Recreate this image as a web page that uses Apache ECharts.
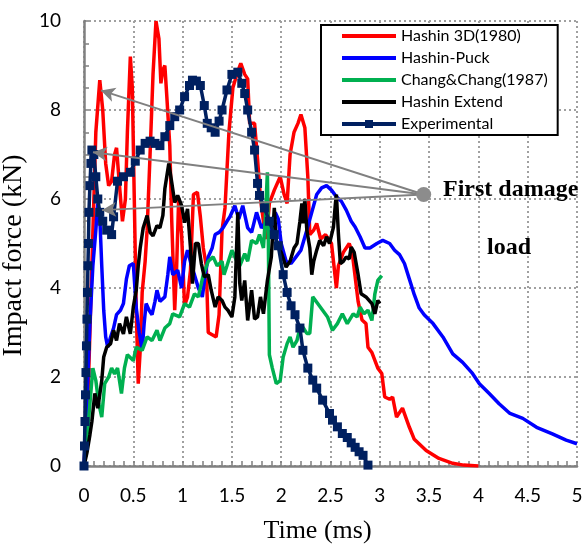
<!DOCTYPE html>
<html>
<head>
<meta charset="utf-8">
<script src="https://cdn.jsdelivr.net/npm/echarts@6/dist/echarts.min.js"></script>
<style>
html,body{margin:0;padding:0;background:#fff;}
#chart{width:585px;height:547px;}
</style>
</head>
<body>
<div id="chart"></div>
<script>
// ---- data: [time (ms), impact force (kN)] ----
const seriesNames = ['Hashin 3D(1980)', 'Hashin-Puck', 'Chang&Chang(1987)', 'Hashin Extend', 'Experimental'];
const xTicks = [0, 0.5, 1, 1.5, 2, 2.5, 3, 3.5, 4, 4.5, 5];
const yTicks = [0, 2, 4, 6, 8, 10];

const hashin3D = [
[0,0],[0.04,1.5],[0.08,4.5],[0.12,7.5],[0.16,8.67],[0.19,8.0],[0.22,6.8],[0.25,6.3],[0.28,6.4],[0.31,7.0],
[0.33,7.15],[0.36,6.3],[0.39,5.5],[0.42,6.0],[0.44,7.5],[0.47,9.2],[0.49,8.5],[0.51,6.0],[0.53,3.5],[0.55,1.85],
[0.57,2.6],[0.59,3.9],[0.62,4.6],[0.64,5.3],[0.67,7.0],[0.70,8.8],[0.73,10.0],[0.76,9.6],[0.78,8.6],[0.80,8.9],
[0.82,9.0],[0.84,8.3],[0.87,7.2],[0.89,5.5],[0.92,3.5],[0.94,4.5],[0.96,6.0],[0.99,5.2],[1.02,3.6],[1.05,3.8],
[1.08,4.4],[1.11,6.1],[1.15,6.15],[1.18,5.6],[1.21,4.9],[1.24,4.5],[1.26,3.0],[1.30,2.95],[1.34,2.9],[1.37,3.4],
[1.40,5.3],[1.43,5.8],[1.47,7.5],[1.51,8.5],[1.55,8.8],[1.59,9.05],[1.63,8.8],[1.66,8.7],[1.68,7.7],[1.73,7.7],
[1.76,6.9],[1.79,6.0],[1.82,5.5],[1.85,5.1],[1.88,5.9],[1.93,6.2],[1.99,6.5],[2.03,6.1],[2.06,5.9],[2.09,7.0],
[2.13,7.5],[2.17,7.7],[2.20,7.9],[2.24,7.6],[2.27,6.5],[2.29,5.2],[2.33,5.3],[2.36,5.45],[2.40,5.1],[2.45,5.2],
[2.51,5.0],[2.56,4.0],[2.58,4.5],[2.63,4.8],[2.69,5.0],[2.72,4.8],[2.78,3.7],[2.82,3.28],[2.86,3.2],[2.88,2.67],
[2.92,2.55],[2.98,2.2],[3.02,2.08],[3.05,1.55],[3.10,1.5],[3.13,1.55],[3.17,1.1],[3.23,1.3],[3.30,0.87],[3.35,0.6],
[3.47,0.35],[3.60,0.17],[3.74,0.06],[3.85,0.02],[4.0,0.0]
];

const hashinPuck = [
[0,0],[0.03,1.5],[0.06,3.2],[0.09,4.5],[0.12,5.3],[0.14,5.9],[0.16,5.6],[0.18,4.5],[0.20,3.5],[0.22,2.9],
[0.24,2.67],[0.27,2.9],[0.30,3.1],[0.33,3.4],[0.37,3.5],[0.40,3.65],[0.43,4.2],[0.46,4.5],[0.50,4.55],[0.53,3.55],
[0.56,3.0],[0.59,2.6],[0.61,3.2],[0.63,3.65],[0.66,3.5],[0.69,3.4],[0.72,3.7],[0.74,3.95],[0.77,3.7],[0.82,3.8],
[0.85,4.3],[0.87,4.7],[0.90,4.3],[0.95,4.4],[0.99,4.0],[1.02,4.6],[1.05,4.85],[1.09,4.5],[1.12,4.3],[1.16,4.0],
[1.20,3.8],[1.23,4.3],[1.26,4.7],[1.30,4.9],[1.33,5.2],[1.37,5.25],[1.41,5.35],[1.45,5.5],[1.48,5.6],[1.53,5.85],
[1.57,5.55],[1.61,5.85],[1.66,5.35],[1.70,5.25],[1.75,5.7],[1.80,5.35],[1.85,5.5],[1.90,5.2],[1.94,5.7],[1.97,5.55],
[2.00,5.0],[2.05,4.6],[2.10,4.55],[2.15,4.7],[2.20,4.85],[2.26,5.3],[2.31,5.7],[2.36,6.1],[2.41,6.25],[2.46,6.3],
[2.51,6.2],[2.56,6.05],[2.61,5.95],[2.66,5.75],[2.71,5.5],[2.75,5.37],[2.80,5.15],[2.85,4.9],[2.90,4.9],[2.97,5.0],
[3.03,5.07],[3.10,5.0],[3.15,4.85],[3.20,4.75],[3.25,4.55],[3.30,4.2],[3.35,3.85],[3.40,3.55],[3.45,3.4],[3.54,3.2],
[3.64,2.9],[3.74,2.52],[3.84,2.33],[3.94,2.08],[4.01,1.85],[4.11,1.63],[4.21,1.4],[4.32,1.18],[4.45,1.07],[4.59,0.87],
[4.75,0.72],[4.89,0.58],[5.0,0.5]
];

const changChang = [
[0,0],[0.03,0.6],[0.06,1.4],[0.09,2.2],[0.12,1.92],[0.15,1.4],[0.18,1.1],[0.21,1.85],[0.25,2.0],[0.28,2.2],
[0.31,2.07],[0.34,2.2],[0.38,1.63],[0.41,2.2],[0.44,2.5],[0.50,2.37],[0.53,2.67],[0.59,2.6],[0.64,2.9],[0.69,2.82],
[0.74,3.05],[0.77,2.82],[0.82,3.1],[0.87,3.2],[0.90,3.42],[0.97,3.35],[1.02,3.65],[1.07,3.57],[1.12,3.87],[1.16,3.8],
[1.21,4.3],[1.26,4.6],[1.31,4.7],[1.35,4.5],[1.40,4.6],[1.42,4.3],[1.45,4.5],[1.50,4.85],[1.55,4.6],[1.58,4.5],
[1.63,4.77],[1.66,4.6],[1.70,5.07],[1.75,5.0],[1.78,5.2],[1.82,4.9],[1.84,5.6],[1.86,6.6],[1.87,5.0],[1.88,2.5],
[1.91,2.2],[1.95,1.85],[1.99,1.92],[2.02,2.45],[2.06,2.75],[2.09,2.9],[2.12,2.67],[2.16,2.82],[2.19,3.1],[2.22,3.12],
[2.26,2.98],[2.29,2.98],[2.32,3.8],[2.37,3.65],[2.42,3.5],[2.47,3.35],[2.52,3.05],[2.57,3.2],[2.62,3.42],[2.67,3.2],
[2.73,3.42],[2.77,3.35],[2.80,3.57],[2.84,3.42],[2.88,3.5],[2.92,3.27],[2.95,3.87],[2.98,4.17],[3.02,4.28]
];

const hashinExtend = [
[0,0],[0.03,0.3],[0.06,0.7],[0.08,1.0],[0.11,1.63],[0.14,1.3],[0.18,1.92],[0.20,2.45],[0.23,2.67],[0.27,2.75],
[0.30,3.05],[0.33,2.82],[0.36,3.2],[0.40,2.97],[0.43,3.35],[0.47,2.97],[0.50,3.57],[0.53,3.95],[0.55,4.5],[0.57,4.9],
[0.60,5.35],[0.64,5.63],[0.67,5.25],[0.70,5.17],[0.74,5.4],[0.77,5.35],[0.80,5.63],[0.82,6.23],[0.86,6.8],[0.89,6.37],
[0.92,5.92],[0.95,6.08],[0.99,5.85],[1.02,5.47],[1.05,5.78],[1.08,4.9],[1.10,4.1],[1.13,5.0],[1.16,5.0],[1.19,4.55],
[1.22,4.25],[1.26,4.3],[1.29,3.95],[1.33,3.57],[1.36,3.8],[1.40,3.72],[1.43,3.57],[1.46,3.5],[1.50,3.35],[1.53,3.8],
[1.56,5.7],[1.58,4.1],[1.60,3.72],[1.63,4.17],[1.66,3.27],[1.70,3.95],[1.73,3.3],[1.76,3.35],[1.79,3.8],[1.82,3.42],
[1.86,4.17],[1.90,4.7],[1.93,5.8],[1.95,5.07],[2.00,4.8],[2.05,4.47],[2.09,4.6],[2.13,4.9],[2.16,5.0],[2.19,5.5],
[2.21,5.9],[2.22,5.45],[2.24,6.0],[2.26,5.3],[2.29,4.9],[2.31,4.3],[2.33,4.6],[2.36,4.85],[2.39,5.07],[2.43,4.95],
[2.46,5.15],[2.49,5.0],[2.53,5.37],[2.55,5.9],[2.56,6.1],[2.58,5.22],[2.60,4.55],[2.63,4.6],[2.66,4.7],[2.69,4.65],
[2.71,4.92],[2.74,4.8],[2.78,4.3],[2.81,3.87],[2.86,3.8],[2.92,3.65],[2.95,3.42],[2.98,3.72],[3.0,3.65]
];

const experimental = [
[0,0],[0.005,0.45],[0.01,1.0],[0.015,1.6],[0.02,2.1],[0.025,2.7],[0.03,3.3],[0.035,3.9],[0.04,4.5],[0.045,5.0],
[0.05,5.7],[0.06,6.3],[0.07,6.8],[0.08,7.1],[0.10,7.0],[0.12,6.5],[0.14,6.0],[0.16,5.7],[0.19,5.5],[0.23,5.3],
[0.28,5.2],[0.30,5.6],[0.34,6.4],[0.40,6.5],[0.47,6.6],[0.52,6.85],[0.57,7.1],[0.62,7.25],[0.67,7.3],[0.72,7.25],
[0.77,7.2],[0.82,7.4],[0.87,7.65],[0.92,7.85],[0.97,8.0],[1.02,8.3],[1.07,8.55],[1.10,8.67],[1.14,8.65],[1.18,8.55],
[1.22,8.1],[1.25,7.7],[1.29,7.6],[1.33,7.5],[1.37,7.75],[1.40,8.0],[1.45,8.45],[1.50,8.8],[1.56,8.85],[1.60,8.6],
[1.63,8.37],[1.66,8.0],[1.70,7.5],[1.73,7.1],[1.76,6.35],[1.78,6.08],[1.83,5.8],[1.88,5.5],[1.93,5.2],[1.97,4.95],
[2.02,4.3],[2.06,3.9],[2.10,3.6],[2.14,3.4],[2.19,3.1],[2.22,2.6],[2.27,2.2],[2.32,1.93],[2.36,1.75],[2.42,1.48],
[2.49,1.18],[2.52,1.03],[2.57,0.88],[2.62,0.73],[2.67,0.64],[2.71,0.52],[2.75,0.42],[2.79,0.32],[2.83,0.24],[2.88,0.02]
];

// annotation: "First damage load" marker and arrow targets
const damageMarker = [3.445, 6.1];
const damageTargets = [[0.172, 8.44], [0.091, 7.05], [0.182, 5.75]];

const colors = ['#ff0000', '#0000ff', '#00b050', '#000000', '#002060'];
const seriesData = [hashin3D, hashinPuck, changChang, hashinExtend, experimental];

const lineIcon = 'path://M0,5H54V9H0Z M0,0h0.01v0.01h-0.01Z M0,14h0.01v-0.01h-0.01Z';
const markIcon = 'path://M0,5H23V3H31V5H54V9H31V11H23V9H0Z M0,0h0.01v0.01h-0.01Z M0,14h0.01v-0.01h-0.01Z';

const chart = echarts.init(document.getElementById('chart'), null, {renderer: 'canvas'});

const series = seriesNames.map((name, i) => {
  const isExp = i === 4;
  const s = {
    name: name,
    type: 'line',
    data: seriesData[i],
    color: colors[i],
    showSymbol: isExp,
    symbol: isExp ? 'rect' : 'none',
    symbolSize: 9,
    lineStyle: {width: 3.5, color: colors[i]},
    itemStyle: {color: colors[i]},
    z: 2 + i,
    animation: false
  };
  if (isExp) {
    s.markLine = {
      silent: true,
      symbol: ['none', 'arrow'],
      symbolSize: [11, 14],
      lineStyle: {color: '#808080', width: 2, type: 'solid'},
      label: {show: false},
      data: damageTargets.map(t => [{coord: damageMarker}, {coord: t}]),
      animation: false,
      z: 20
    };
    s.markPoint = {
      silent: true,
      symbol: 'circle',
      symbolSize: 15,
      itemStyle: {color: '#8c8c8c'},
      label: {show: false},
      data: [{coord: damageMarker}],
      animation: false,
      z: 21
    };
  }
  return s;
});

const option = {
  backgroundColor: '#ffffff',
  animation: false,
  grid: {left: 84, right: 8, top: 21, bottom: 81, containLabel: false, outerBoundsMode: 'none'},
  xAxis: {
    type: 'value',
    min: xTicks[0],
    max: xTicks[xTicks.length - 1],
    interval: 0.5,
    name: 'Time (ms)',
    nameLocation: 'middle',
    nameGap: 52,
    nameTextStyle: {fontFamily: '"Liberation Serif", serif', fontSize: 26, color: '#000', padding: [0, 26, 0, 0]},
    axisLine: {show: true, onZero: false, lineStyle: {color: '#808080', width: 2.5}},
    axisTick: {show: true, inside: true, length: 5, lineStyle: {color: '#808080', width: 1.5}},
    minorTick: {show: true, splitNumber: 5, length: 5, lineStyle: {color: '#808080', width: 1.5}},
    axisLabel: {fontFamily: 'Lato, sans-serif', fontSize: 19, color: '#000', margin: 20,
      formatter: v => String(v)},
    splitLine: {show: true, lineStyle: {color: '#a0a0a0', width: 2, type: [2, 3]}}
  },
  yAxis: {
    type: 'value',
    min: yTicks[0],
    max: yTicks[yTicks.length - 1],
    interval: 2,
    name: 'Impact force (kN)',
    nameLocation: 'middle',
    nameGap: 50,
    nameTextStyle: {fontFamily: '"Liberation Serif", serif', fontSize: 28, color: '#000', padding: [0, 24, 0, 0]},
    axisLine: {show: true, onZero: false, lineStyle: {color: '#808080', width: 2.5}},
    axisTick: {show: true, inside: true, length: 5, lineStyle: {color: '#808080', width: 1.5}},
    minorTick: {show: true, splitNumber: 4, length: 5, lineStyle: {color: '#808080', width: 1.5}},
    axisLabel: {fontFamily: 'Lato, sans-serif', fontSize: 19, color: '#000', margin: 23},
    splitLine: {show: true, lineStyle: {color: '#a0a0a0', width: 2, type: [2, 3]}}
  },
  legend: {
    show: true,
    orient: 'vertical',
    left: 321,
    top: 25,
    align: 'left',
    padding: [3, 10, 3, 21],
    itemGap: 6,
    itemWidth: 54,
    itemHeight: 14,
    backgroundColor: '#ffffff',
    borderColor: '#000000',
    borderWidth: 2,
    borderRadius: 0,
    selectedMode: false,
    textStyle: {fontFamily: 'Lato, sans-serif', fontSize: 16, color: '#000'},
    data: seriesNames.map((n, i) => ({name: n, icon: i === 4 ? markIcon : lineIcon}))
  },
  graphic: [
    {type: 'text', z: 100, style: {x: 443, y: 190, text: 'First damage', textVerticalAlign: 'middle',
      font: 'bold 24px "Liberation Serif", serif', fill: '#000'}},
    {type: 'text', z: 100, style: {x: 487, y: 248, text: 'load', textVerticalAlign: 'middle',
      font: 'bold 24px "Liberation Serif", serif', fill: '#000'}}
  ],
  series: series
};

chart.setOption(option);
</script>
</body>
</html>
